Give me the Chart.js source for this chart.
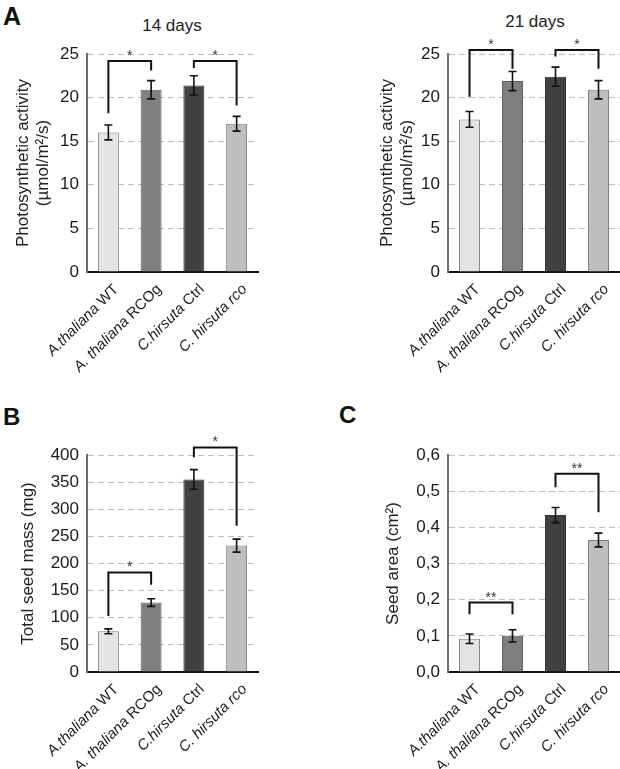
<!DOCTYPE html>
<html>
<head>
<meta charset="utf-8">
<script src="https://cdn.jsdelivr.net/npm/chart.js@4.4.1/dist/chart.umd.min.js"></script>
<style>
  body { margin: 0; background: #fff; width: 620px; height: 769px; position: relative; overflow: hidden;
         font-family: "Liberation Sans", Arial, sans-serif; }
  canvas { position: absolute; }
  .lbl { position: absolute; line-height: 1; color: #111; white-space: nowrap; }
  .ttl { font-size: 17px; color: #222; transform: translateX(-50%); }
</style>
</head>
<body>
<div class="lbl" style="left:3px;top:4px;font-size:25px;font-weight:bold">A</div>
<div class="lbl" style="left:3px;top:405px;font-size:24px;font-weight:bold">B</div>
<div class="lbl" style="left:339px;top:403px;font-size:24px;font-weight:bold">C</div>
<div class="lbl ttl" style="left:172px;top:17px">14 days</div>
<div class="lbl ttl" style="left:535px;top:13px">21 days</div>

<canvas id="c14" width="310" height="375" style="left:0;top:0"></canvas>
<canvas id="c21" width="310" height="375" style="left:310px;top:0"></canvas>
<canvas id="cMass" width="310" height="389" style="left:0;top:380px"></canvas>
<canvas id="cArea" width="310" height="389" style="left:310px;top:380px"></canvas>

<script>
const categories = ['A.thaliana WT', 'A. thaliana RCOg', 'C.hirsuta Ctrl', 'C. hirsuta rco'];
const italicPart = ['A.thaliana', 'A. thaliana', 'C.hirsuta', 'C. hirsuta rco'];

const photo14 = [16.0, 20.9, 21.4, 17.0];
const photo14Err = [0.85, 1.05, 1.1, 0.85];
const photo21 = [17.5, 21.9, 22.4, 20.9];
const photo21Err = [0.9, 1.1, 1.1, 1.05];
const seedMass = [75, 128, 355, 233];
const seedMassErr = [4.5, 7, 18, 12];
const seedArea = [0.092, 0.100, 0.434, 0.365];
const seedAreaErr = [0.013, 0.017, 0.021, 0.019];

// significance brackets: [from, to, top, left leg end, right leg end, mark]
const sig14 = [[0, 1, 24.2, 18.2, 23.1, '*'], [2, 3, 24.2, 23.4, 19.1, '*']];
const sig21 = [[0, 1, 25.45, 20.1, 23.3, '*'], [2, 3, 25.45, 24.7, 23.3, '*']];
const sigMass = [[0, 1, 183.5, 103, 161, '*'], [2, 3, 414, 396, 269.5, '*']];
const sigArea = [[0, 1, 0.192, 0.16, 0.16, '**'], [2, 3, 0.548, 0.511, 0.442, '**']];

const FONT = '"Liberation Sans", Arial, sans-serif';
const fills = ['#e4e4e4', '#7f7f7f', '#414141', '#bebebe'];
const edges = ['#7d7d7d', '#5e5e5e', '#2e2e2e', '#7a7a7a'];

function overlay(errs, sig) {
  return {
    id: 'overlay',
    afterDatasetsDraw(chart) {
      const { ctx, scales: { x, y }, chartArea } = chart;
      const vals = chart.data.datasets[0].data;
      ctx.save();
      // error bars
      ctx.strokeStyle = '#111';
      ctx.lineWidth = 1.6;
      vals.forEach((v, i) => {
        const px = x.getPixelForValue(i);
        const hi = y.getPixelForValue(v + errs[i]);
        const lo = y.getPixelForValue(v - errs[i]);
        ctx.beginPath();
        ctx.moveTo(px, hi); ctx.lineTo(px, lo);
        ctx.moveTo(px - 4, hi); ctx.lineTo(px + 4, hi);
        ctx.moveTo(px - 4, lo); ctx.lineTo(px + 4, lo);
        ctx.stroke();
      });
      // brackets
      ctx.lineWidth = 2;
      sig.forEach(([a, b, top, endA, endB, mark]) => {
        const xa = x.getPixelForValue(a), xb = x.getPixelForValue(b);
        const yt = y.getPixelForValue(top);
        ctx.beginPath();
        ctx.moveTo(xa, y.getPixelForValue(endA));
        ctx.lineTo(xa, yt);
        ctx.lineTo(xb, yt);
        ctx.lineTo(xb, y.getPixelForValue(endB));
        ctx.stroke();
        ctx.fillStyle = '#333';
        ctx.font = '14px ' + FONT;
        ctx.textAlign = 'center';
        ctx.textBaseline = 'alphabetic';
        ctx.fillText(mark, (xa + xb) / 2, yt - 1);
      });
      // rotated category labels, species part in italics
      ctx.fillStyle = '#1a1a1a';
      ctx.textAlign = 'left';
      ctx.textBaseline = 'middle';
      categories.forEach((lab, i) => {
        const it = italicPart[i], rest = lab.slice(it.length);
        ctx.font = 'italic 15px ' + FONT;
        const w1 = ctx.measureText(it).width;
        ctx.font = '15px ' + FONT;
        const w2 = ctx.measureText(rest).width;
        ctx.save();
        ctx.translate(x.getPixelForValue(i) + 8, chartArea.bottom + 15);
        ctx.rotate(-Math.PI / 4);
        ctx.font = 'italic 15px ' + FONT;
        ctx.fillText(it, -w1 - w2, 0);
        ctx.font = '15px ' + FONT;
        ctx.fillText(rest, -w2, 0);
        ctx.restore();
      });
      ctx.restore();
    }
  };
}

function makeChart(id, values, errs, sig, yOpts, box) {
  new Chart(document.getElementById(id), {
    type: 'bar',
    data: {
      labels: categories,
      datasets: [{
        data: values,
        backgroundColor: fills,
        borderColor: edges,
        borderWidth: 1,
        barPercentage: 0.49,
        categoryPercentage: 1
      }]
    },
    options: {
      responsive: false,
      animation: false,
      layout: { padding: { left: 0, right: box.right, top: box.top, bottom: 0 } },
      plugins: { legend: { display: false }, tooltip: { enabled: false } },
      scales: {
        x: {
          grid: { display: false, drawTicks: false },
          border: { color: '#111', width: 2 },
          ticks: { display: false },
          afterFit: s => { s.height = box.xh; }
        },
        y: {
          min: 0,
          max: yOpts.max,
          ticks: {
            stepSize: yOpts.step,
            padding: 8,
            color: '#1a1a1a',
            font: { family: FONT, size: 17 },
            callback: yOpts.fmt
          },
          grid: { color: '#bdbdbd', lineWidth: 1, drawTicks: false },
          border: { color: '#6e6e6e', width: 2, dash: [6, 4] },
          title: {
            display: true,
            text: yOpts.title,
            color: '#222',
            font: { family: FONT, size: 17, lineHeight: 1.18 },
            padding: { top: yOpts.titlePad, bottom: 0 }
          },
          afterFit: s => { s.width = box.yw; }
        }
      }
    },
    plugins: [overlay(errs, sig)]
  });
}

const photoTitle = ['Photosynthetic activity', '(\u00b5mol/m\u00b2/s)'];
const plain = v => v;

makeChart('c14', photo14, photo14Err, sig14,
  { max: 25, step: 5, title: photoTitle, titlePad: 13, fmt: plain },
  { right: 52, top: 54, xh: 103, yw: 87 });
makeChart('c21', photo21, photo21Err, sig21,
  { max: 25, step: 5, title: photoTitle, titlePad: 67, fmt: plain },
  { right: 0, top: 54, xh: 103, yw: 138 });
makeChart('cMass', seedMass, seedMassErr, sigMass,
  { max: 400, step: 50, title: 'Total seed mass (mg)', titlePad: 18, fmt: plain },
  { right: 52, top: 75, xh: 97, yw: 87 });
makeChart('cArea', seedArea, seedAreaErr, sigArea,
  { max: 0.6, step: 0.1, title: 'Seed area (cm\u00b2)', titlePad: 73,
    fmt: v => v.toFixed(1).replace('.', ',') },
  { right: 0, top: 75, xh: 97, yw: 138 });
</script>
</body>
</html>
